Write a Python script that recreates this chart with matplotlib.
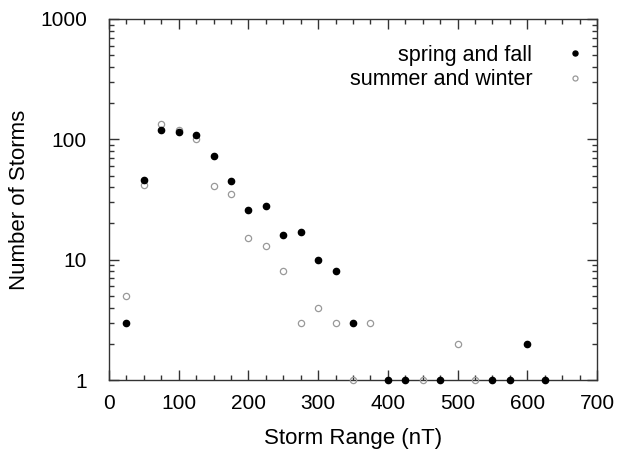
import numpy as np
import matplotlib
matplotlib.use('Agg')
import matplotlib.pyplot as plt
from matplotlib.ticker import MultipleLocator, LogLocator, FixedFormatter, FixedLocator

plt.rcParams['font.family'] = ['Liberation Sans', 'DejaVu Sans']

# --- Data
sf_range  = [25, 50, 75, 100, 125, 150, 175, 200, 225, 250, 275, 300, 325, 350,
             400, 425, 475, 550, 575, 600, 625]
sf_counts = [3, 46, 120, 115, 108, 73, 45, 26, 28, 16, 17, 10, 8, 3,
             1, 1, 1, 1, 1, 2, 1]
sw_range  = [25, 50, 75, 100, 125, 150, 175, 200, 225, 250, 275, 300, 325, 350,
             375, 450, 500, 525]
sw_counts = [5, 42, 133, 120, 101, 41, 35, 15, 13, 8, 3, 4, 3, 1,
             3, 1, 2, 1]
y_ticks = [1, 10, 100, 1000]

W, H = 618, 451
fig = plt.figure(figsize=(W/100, H/100), dpi=100)
ax = fig.add_axes([109/W, 1-380/H, (597-109)/W, (380-19)/H])

ax.plot(sw_range, sw_counts, 'o', mfc='none', mec='#999999', mew=0.9, ms=4.5,
        label='summer and winter', clip_on=False, zorder=3)
ax.plot(sf_range, sf_counts, 'o', color='black', ms=4.5,
        label='spring and fall', clip_on=False, zorder=4)

ax.set_yscale('log')
ax.set_xlim(0, 700)
ax.set_ylim(1, 1000)
ax.xaxis.set_major_locator(MultipleLocator(100))
ax.xaxis.set_minor_locator(MultipleLocator(25))
ax.yaxis.set_major_locator(FixedLocator(y_ticks))
ax.yaxis.set_major_formatter(FixedFormatter([str(v) for v in y_ticks]))
ax.yaxis.set_minor_locator(LogLocator(base=10, subs=np.arange(2, 10)))
ax.tick_params(which='both', direction='in', top=True, right=True,
               labelsize=15, color='#333333')
ax.tick_params(axis='x', pad=10)
ax.tick_params(axis='y', pad=16)
ax.tick_params(which='major', length=7, width=1)
ax.tick_params(which='minor', length=3.5, width=1)
for s in ax.spines.values():
    s.set_color('#333333')
    s.set_linewidth(1)

ax.set_xlabel('Storm Range (nT)', fontsize=16, labelpad=11)
ax.set_ylabel('Number of Storms', fontsize=16, labelpad=7)

h, l = ax.get_legend_handles_labels()
leg = ax.legend(h[::-1], l[::-1], loc='upper right', frameon=False, markerfirst=False,
                fontsize=15.5, handletextpad=1.5, labelspacing=0.15, markerscale=0.8,
                handlelength=1.0, borderpad=0, borderaxespad=0,
                bbox_to_anchor=(477/488, 1-26/361))

fig.savefig('out.png', dpi=100)
